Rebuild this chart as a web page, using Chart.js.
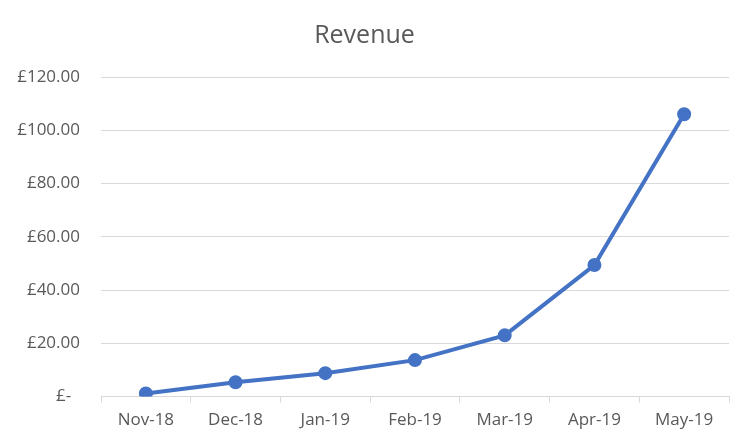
<!DOCTYPE html>
<html>
<head>
<meta charset="utf-8">
<script src="https://cdn.jsdelivr.net/npm/chart.js@4/dist/chart.umd.min.js"></script>
<style>
  html, body { margin: 0; padding: 0; background: #ffffff; }
  #wrap { width: 752px; height: 443px; }
</style>
</head>
<body>
<div id="wrap"><canvas id="c" width="752" height="443"></canvas></div>
<script>
const categories = ['Nov-18', 'Dec-18', 'Jan-19', 'Feb-19', 'Mar-19', 'Apr-19', 'May-19'];
const revenue = [1.2, 5.4, 8.8, 13.7, 23.0, 49.4, 106.0];
const yTicks = [0, 20, 40, 60, 80, 100, 120];

const fontFamily = "'Open Sans', 'Noto Sans', sans-serif";
const textColor = '#595959';
const gridColor = '#d9d9d9';

new Chart(document.getElementById('c'), {
  type: 'line',
  data: {
    labels: categories,
    datasets: [{
      label: 'Revenue',
      data: revenue,
      borderColor: '#4472C4',
      backgroundColor: '#4472C4',
      borderWidth: 4,
      pointRadius: 5,
      pointHoverRadius: 5,
      pointBackgroundColor: '#4472C4',
      pointBorderColor: '#4472C4',
      tension: 0,
      fill: false
    }]
  },
  options: {
    responsive: false,
    animation: false,
    layout: { padding: { left: 0, right: 23, top: 10, bottom: 6 } },
    plugins: {
      legend: { display: false },
      tooltip: { enabled: false },
      title: {
        display: true,
        text: 'Revenue',
        color: textColor,
        font: { family: fontFamily, size: 25, weight: 'normal' },
        padding: { top: 11, bottom: 26 }
      }
    },
    scales: {
      x: {
        offset: true,
        grid: { offset: true, drawOnChartArea: false, drawTicks: true, tickLength: 6, color: gridColor, lineWidth: 1 },
        border: { display: true, color: gridColor, width: 1 },
        ticks: { color: textColor, font: { family: fontFamily, size: 17 }, padding: 7, maxRotation: 0 }
      },
      y: {
        min: 0,
        max: 120,
        afterBuildTicks: (axis) => { axis.ticks = yTicks.map(v => ({ value: v })); },
        afterFit: (axis) => { axis.width = 101; },
        grid: { color: gridColor, lineWidth: 1, drawTicks: false },
        border: { display: false },
        ticks: {
          color: textColor,
          font: { family: fontFamily, size: 17 },
          padding: 21,
          callback: (v) => v === 0 ? '£-  ' : '£' + Number(v).toFixed(2)
        }
      }
    }
  }
});
</script>
</body>
</html>
